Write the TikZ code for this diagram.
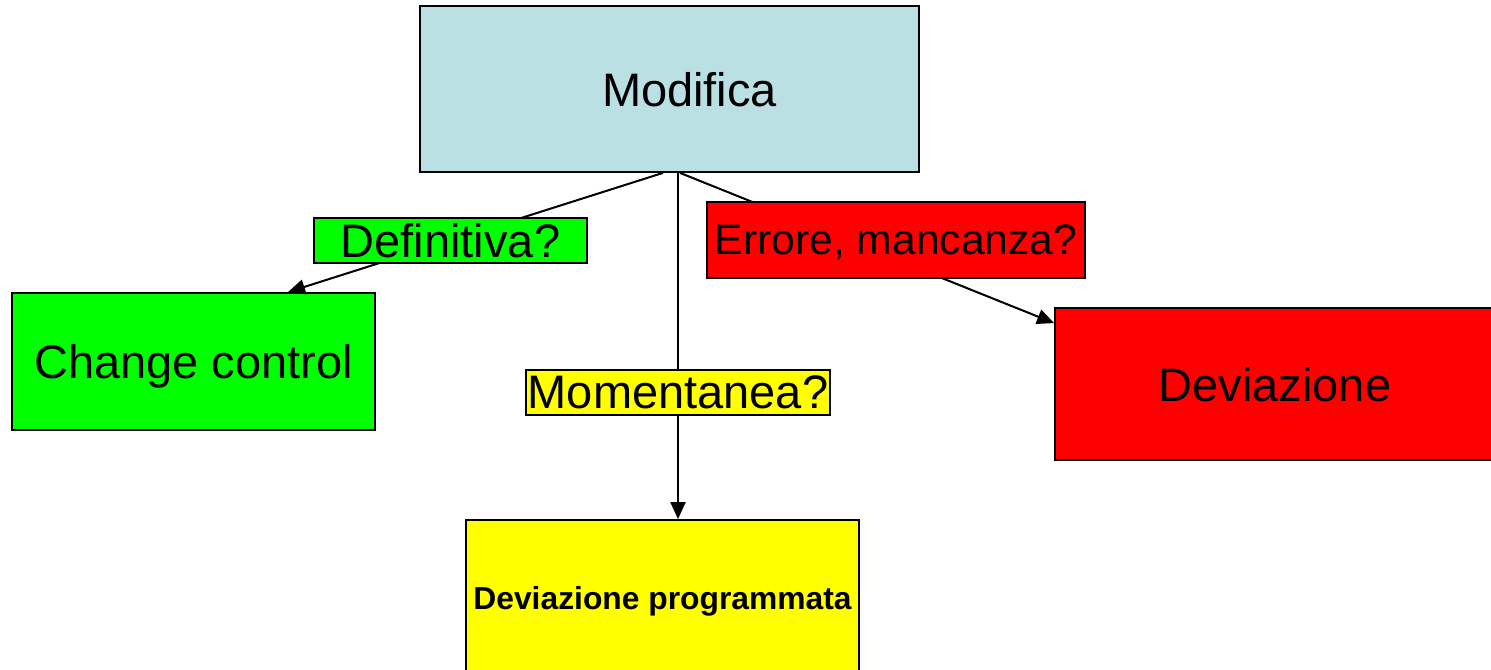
\documentclass[tikz,border=0pt]{standalone}
\usepackage{fontspec}
\setmainfont{Liberation Sans}
\usetikzlibrary{arrows.meta,calc}
\definecolor{myblue}{RGB}{187,224,227}
\definecolor{mygreen}{RGB}{0,255,0}
\definecolor{myred}{RGB}{255,0,0}
\definecolor{myyellow}{RGB}{255,255,0}
\newcommand\mybig{\fontsize{23.5}{28}\selectfont}

\begin{document}
\begin{tikzpicture}[x=0.5pt,y=-0.5pt]
  \clip (0,0) rectangle (1491,669);

  \tikzstyle{box}=[draw=black,line width=0.9pt,inner sep=0pt,text depth=0pt,font=\mybig]
  \tikzstyle{tag}=[draw=black,line width=0.7pt,inner sep=0pt,text depth=0pt,font=\mybig]
  \tikzstyle{edge}=[line width=1pt,-{Triangle[length=8.5pt,width=7.5pt]}]

  \node[box,fill=myblue,minimum width=249.5pt,minimum height=83pt] (modifica) at (669.5,89) {\hspace*{20pt}Modifica};
  \node[box,fill=mygreen,minimum width=181.5pt,minimum height=68.5pt] (change) at (193.5,361.5) {Change control};
  \node[box,fill=myred,minimum width=220pt,minimum height=76pt] (deviaz) at (1275,384) {Deviazione};
  \node[box,fill=myyellow,minimum width=196.5pt,minimum height=78pt,font=\fontsize{15.9}{19}\selectfont\bfseries] (prog) at (662.5,598) {Deviazione programmata};

  % rami dalla modifica
  \coordinate (fork) at ($(modifica.south)+(8.5,0)$);
  \draw[edge] ($(modifica.south)+(-6.5,0)$) -- ($(change.north)+(94.5,0)$);
  \draw[edge] (fork) -- (fork |- prog.north);
  \draw[edge] ($(modifica.south)+(10.5,0)$) -- ($(deviaz.north west)+(0,16)$);

  \node[tag,fill=mygreen,minimum width=136.5pt,minimum height=22.5pt] (definitiva) at (450.5,240.5) {Definitiva?};
  \node[tag,fill=myred,minimum width=189pt,minimum height=38pt,font=\fontsize{21.3}{25}\selectfont] (errore) at (896,240) {Errore, mancanza?};
  \node[tag,fill=myyellow,minimum width=152pt,minimum height=22.5pt] (momentanea) at (678,392.5) {Momentanea?};
\end{tikzpicture}
\end{document}
